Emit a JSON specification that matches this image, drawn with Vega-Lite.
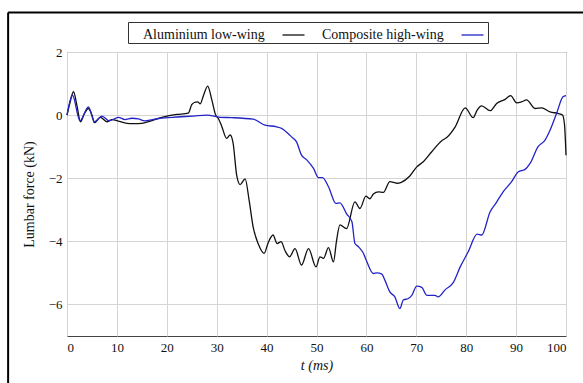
{
  "$schema": "https://vega.github.io/schema/vega-lite/v6.json",
  "width": 499,
  "height": 284,
  "autosize": {"type": "none"},
  "padding": {"left": 67, "top": 52, "right": 17, "bottom": 47},
  "background": "white",
  "config": {
    "view": {"stroke": "#444", "strokeWidth": 1},
    "font": "Liberation Serif",
    "axis": {"labelFont": "Liberation Serif", "titleFont": "Liberation Serif"},
    "legend": {"labelFont": "Liberation Serif"}
  },
  "datasets": {
    "forces": [
      {"t": 0, "force": 0, "series": "Aluminium low-wing"},
      {"t": 0.6, "force": 0.4, "series": "Aluminium low-wing"},
      {"t": 1.3, "force": 0.74, "series": "Aluminium low-wing"},
      {"t": 2.0, "force": 0.3, "series": "Aluminium low-wing"},
      {"t": 2.7, "force": -0.21, "series": "Aluminium low-wing"},
      {"t": 3.5, "force": 0.05, "series": "Aluminium low-wing"},
      {"t": 4.3, "force": 0.21, "series": "Aluminium low-wing"},
      {"t": 5.0, "force": 0.0, "series": "Aluminium low-wing"},
      {"t": 5.5, "force": -0.24, "series": "Aluminium low-wing"},
      {"t": 6.7, "force": -0.07, "series": "Aluminium low-wing"},
      {"t": 8.0, "force": -0.21, "series": "Aluminium low-wing"},
      {"t": 9.0, "force": -0.14, "series": "Aluminium low-wing"},
      {"t": 10.5, "force": -0.2, "series": "Aluminium low-wing"},
      {"t": 12, "force": -0.26, "series": "Aluminium low-wing"},
      {"t": 13.3, "force": -0.27, "series": "Aluminium low-wing"},
      {"t": 15, "force": -0.26, "series": "Aluminium low-wing"},
      {"t": 16.5, "force": -0.2, "series": "Aluminium low-wing"},
      {"t": 18, "force": -0.12, "series": "Aluminium low-wing"},
      {"t": 20, "force": -0.03, "series": "Aluminium low-wing"},
      {"t": 22, "force": 0.02, "series": "Aluminium low-wing"},
      {"t": 24.3, "force": 0.06, "series": "Aluminium low-wing"},
      {"t": 25, "force": 0.33, "series": "Aluminium low-wing"},
      {"t": 25.5, "force": 0.4, "series": "Aluminium low-wing"},
      {"t": 26.2, "force": 0.42, "series": "Aluminium low-wing"},
      {"t": 26.7, "force": 0.36, "series": "Aluminium low-wing"},
      {"t": 27.3, "force": 0.6, "series": "Aluminium low-wing"},
      {"t": 28.2, "force": 0.92, "series": "Aluminium low-wing"},
      {"t": 29, "force": 0.5, "series": "Aluminium low-wing"},
      {"t": 29.8, "force": 0.0, "series": "Aluminium low-wing"},
      {"t": 30.3, "force": -0.1, "series": "Aluminium low-wing"},
      {"t": 31, "force": -0.35, "series": "Aluminium low-wing"},
      {"t": 32, "force": -0.74, "series": "Aluminium low-wing"},
      {"t": 32.7, "force": -0.63, "series": "Aluminium low-wing"},
      {"t": 33.3, "force": -0.9, "series": "Aluminium low-wing"},
      {"t": 34, "force": -1.9, "series": "Aluminium low-wing"},
      {"t": 34.7, "force": -2.2, "series": "Aluminium low-wing"},
      {"t": 35.7, "force": -2.02, "series": "Aluminium low-wing"},
      {"t": 36.5, "force": -2.7, "series": "Aluminium low-wing"},
      {"t": 37.3, "force": -3.54, "series": "Aluminium low-wing"},
      {"t": 38.3, "force": -4.07, "series": "Aluminium low-wing"},
      {"t": 39.5, "force": -4.38, "series": "Aluminium low-wing"},
      {"t": 40.3, "force": -4.05, "series": "Aluminium low-wing"},
      {"t": 41.3, "force": -3.8, "series": "Aluminium low-wing"},
      {"t": 42.1, "force": -4.07, "series": "Aluminium low-wing"},
      {"t": 42.9, "force": -4.01, "series": "Aluminium low-wing"},
      {"t": 43.7, "force": -4.3, "series": "Aluminium low-wing"},
      {"t": 44.6, "force": -4.49, "series": "Aluminium low-wing"},
      {"t": 45.7, "force": -4.23, "series": "Aluminium low-wing"},
      {"t": 47.0, "force": -4.75, "series": "Aluminium low-wing"},
      {"t": 48.4, "force": -4.23, "series": "Aluminium low-wing"},
      {"t": 49.9, "force": -4.81, "series": "Aluminium low-wing"},
      {"t": 50.7, "force": -4.49, "series": "Aluminium low-wing"},
      {"t": 51.4, "force": -4.54, "series": "Aluminium low-wing"},
      {"t": 52.4, "force": -4.2, "series": "Aluminium low-wing"},
      {"t": 53.4, "force": -4.65, "series": "Aluminium low-wing"},
      {"t": 54.0, "force": -4.0, "series": "Aluminium low-wing"},
      {"t": 54.7, "force": -3.48, "series": "Aluminium low-wing"},
      {"t": 56.0, "force": -3.6, "series": "Aluminium low-wing"},
      {"t": 57.7, "force": -2.75, "series": "Aluminium low-wing"},
      {"t": 58.7, "force": -2.96, "series": "Aluminium low-wing"},
      {"t": 59.9, "force": -2.57, "series": "Aluminium low-wing"},
      {"t": 60.7, "force": -2.65, "series": "Aluminium low-wing"},
      {"t": 61.4, "force": -2.5, "series": "Aluminium low-wing"},
      {"t": 62.4, "force": -2.43, "series": "Aluminium low-wing"},
      {"t": 63.4, "force": -2.45, "series": "Aluminium low-wing"},
      {"t": 64.7, "force": -2.11, "series": "Aluminium low-wing"},
      {"t": 66.1, "force": -2.16, "series": "Aluminium low-wing"},
      {"t": 67.0, "force": -2.13, "series": "Aluminium low-wing"},
      {"t": 68.7, "force": -1.93, "series": "Aluminium low-wing"},
      {"t": 70.1, "force": -1.64, "series": "Aluminium low-wing"},
      {"t": 71.4, "force": -1.48, "series": "Aluminium low-wing"},
      {"t": 73.1, "force": -1.16, "series": "Aluminium low-wing"},
      {"t": 75.1, "force": -0.81, "series": "Aluminium low-wing"},
      {"t": 76.1, "force": -0.71, "series": "Aluminium low-wing"},
      {"t": 77.8, "force": -0.37, "series": "Aluminium low-wing"},
      {"t": 79.8, "force": 0.23, "series": "Aluminium low-wing"},
      {"t": 81.4, "force": -0.08, "series": "Aluminium low-wing"},
      {"t": 82.2, "force": 0.16, "series": "Aluminium low-wing"},
      {"t": 83.1, "force": 0.29, "series": "Aluminium low-wing"},
      {"t": 84.8, "force": 0.14, "series": "Aluminium low-wing"},
      {"t": 86.1, "force": 0.37, "series": "Aluminium low-wing"},
      {"t": 87.8, "force": 0.5, "series": "Aluminium low-wing"},
      {"t": 88.9, "force": 0.62, "series": "Aluminium low-wing"},
      {"t": 90.1, "force": 0.39, "series": "Aluminium low-wing"},
      {"t": 91.1, "force": 0.42, "series": "Aluminium low-wing"},
      {"t": 92.1, "force": 0.48, "series": "Aluminium low-wing"},
      {"t": 93.8, "force": 0.21, "series": "Aluminium low-wing"},
      {"t": 95.1, "force": 0.23, "series": "Aluminium low-wing"},
      {"t": 96.8, "force": 0.1, "series": "Aluminium low-wing"},
      {"t": 98.5, "force": 0.05, "series": "Aluminium low-wing"},
      {"t": 99.3, "force": 0.0, "series": "Aluminium low-wing"},
      {"t": 99.7, "force": -0.3, "series": "Aluminium low-wing"},
      {"t": 100, "force": -1.27, "series": "Aluminium low-wing"},
      {"t": 0, "force": 0, "series": "Composite high-wing"},
      {"t": 1.1, "force": 0.63, "series": "Composite high-wing"},
      {"t": 2.6, "force": -0.18, "series": "Composite high-wing"},
      {"t": 4.3, "force": 0.26, "series": "Composite high-wing"},
      {"t": 5.5, "force": -0.21, "series": "Composite high-wing"},
      {"t": 7.0, "force": -0.03, "series": "Composite high-wing"},
      {"t": 8.5, "force": -0.18, "series": "Composite high-wing"},
      {"t": 10.3, "force": -0.07, "series": "Composite high-wing"},
      {"t": 11.6, "force": -0.14, "series": "Composite high-wing"},
      {"t": 13, "force": -0.1, "series": "Composite high-wing"},
      {"t": 14.3, "force": -0.12, "series": "Composite high-wing"},
      {"t": 15.6, "force": -0.18, "series": "Composite high-wing"},
      {"t": 18.6, "force": -0.1, "series": "Composite high-wing"},
      {"t": 22, "force": -0.06, "series": "Composite high-wing"},
      {"t": 25.3, "force": -0.03, "series": "Composite high-wing"},
      {"t": 28, "force": 0.0, "series": "Composite high-wing"},
      {"t": 30.7, "force": -0.07, "series": "Composite high-wing"},
      {"t": 33, "force": -0.08, "series": "Composite high-wing"},
      {"t": 37.3, "force": -0.13, "series": "Composite high-wing"},
      {"t": 39.7, "force": -0.32, "series": "Composite high-wing"},
      {"t": 42, "force": -0.37, "series": "Composite high-wing"},
      {"t": 43, "force": -0.42, "series": "Composite high-wing"},
      {"t": 44.3, "force": -0.58, "series": "Composite high-wing"},
      {"t": 45, "force": -0.69, "series": "Composite high-wing"},
      {"t": 46, "force": -0.85, "series": "Composite high-wing"},
      {"t": 47, "force": -1.27, "series": "Composite high-wing"},
      {"t": 48, "force": -1.41, "series": "Composite high-wing"},
      {"t": 49.4, "force": -1.69, "series": "Composite high-wing"},
      {"t": 50.4, "force": -1.98, "series": "Composite high-wing"},
      {"t": 51.2, "force": -1.98, "series": "Composite high-wing"},
      {"t": 52.4, "force": -2.27, "series": "Composite high-wing"},
      {"t": 53.9, "force": -2.8, "series": "Composite high-wing"},
      {"t": 54.7, "force": -2.78, "series": "Composite high-wing"},
      {"t": 56, "force": -3.12, "series": "Composite high-wing"},
      {"t": 57.1, "force": -3.38, "series": "Composite high-wing"},
      {"t": 57.7, "force": -4.07, "series": "Composite high-wing"},
      {"t": 58.4, "force": -4.17, "series": "Composite high-wing"},
      {"t": 59.4, "force": -4.38, "series": "Composite high-wing"},
      {"t": 60.1, "force": -4.65, "series": "Composite high-wing"},
      {"t": 61.4, "force": -5.02, "series": "Composite high-wing"},
      {"t": 62.1, "force": -5.0, "series": "Composite high-wing"},
      {"t": 63.1, "force": -5.04, "series": "Composite high-wing"},
      {"t": 63.7, "force": -5.23, "series": "Composite high-wing"},
      {"t": 64.7, "force": -5.6, "series": "Composite high-wing"},
      {"t": 65.7, "force": -5.76, "series": "Composite high-wing"},
      {"t": 66.7, "force": -6.13, "series": "Composite high-wing"},
      {"t": 67.4, "force": -5.86, "series": "Composite high-wing"},
      {"t": 68.4, "force": -5.81, "series": "Composite high-wing"},
      {"t": 69.1, "force": -5.71, "series": "Composite high-wing"},
      {"t": 70.1, "force": -5.42, "series": "Composite high-wing"},
      {"t": 71.1, "force": -5.46, "series": "Composite high-wing"},
      {"t": 72.1, "force": -5.71, "series": "Composite high-wing"},
      {"t": 73.7, "force": -5.71, "series": "Composite high-wing"},
      {"t": 74.4, "force": -5.76, "series": "Composite high-wing"},
      {"t": 75.8, "force": -5.53, "series": "Composite high-wing"},
      {"t": 77.4, "force": -5.31, "series": "Composite high-wing"},
      {"t": 78.8, "force": -4.81, "series": "Composite high-wing"},
      {"t": 80.4, "force": -4.33, "series": "Composite high-wing"},
      {"t": 82.2, "force": -3.77, "series": "Composite high-wing"},
      {"t": 83.1, "force": -3.8, "series": "Composite high-wing"},
      {"t": 84.8, "force": -3.06, "series": "Composite high-wing"},
      {"t": 86, "force": -2.78, "series": "Composite high-wing"},
      {"t": 87.4, "force": -2.43, "series": "Composite high-wing"},
      {"t": 89.1, "force": -2.11, "series": "Composite high-wing"},
      {"t": 90.4, "force": -1.8, "series": "Composite high-wing"},
      {"t": 91.8, "force": -1.72, "series": "Composite high-wing"},
      {"t": 92.8, "force": -1.53, "series": "Composite high-wing"},
      {"t": 94.4, "force": -1.0, "series": "Composite high-wing"},
      {"t": 95.8, "force": -0.79, "series": "Composite high-wing"},
      {"t": 96.8, "force": -0.48, "series": "Composite high-wing"},
      {"t": 98.1, "force": 0.05, "series": "Composite high-wing"},
      {"t": 99.4, "force": 0.58, "series": "Composite high-wing"},
      {"t": 100, "force": 0.62, "series": "Composite high-wing"}
    ],
    "frame": [{"corner": "top-left"}]
  },
  "layer": [
    {
      "data": {"name": "forces"},
      "mark": {"type": "line", "strokeWidth": 1.3, "interpolate": "monotone"},
      "encoding": {
        "x": {
          "field": "t", "type": "quantitative",
          "scale": {"domain": [0, 100], "nice": false, "zero": false},
          "axis": {
            "values": [0, 10, 20, 30, 40, 50, 60, 70, 80, 90, 100],
            "title": "t (ms)", "titleFontStyle": "italic", "titleFontWeight": "normal",
            "titleFontSize": 14, "titleColor": "#111", "titlePadding": 4,
            "labelFontSize": 13, "labelColor": "#111", "labelPadding": 5,
            "ticks": false, "domain": false,
            "grid": true, "gridColor": "#d4d4d4", "gridWidth": 1
          }
        },
        "y": {
          "field": "force", "type": "quantitative",
          "scale": {"domain": [-7, 2], "nice": false, "zero": false},
          "axis": {
            "values": [-6, -4, -2, 0, 2],
            "title": "Lumbar force (kN)", "titleFontWeight": "normal",
            "titleFontSize": 14, "titleColor": "#111", "titlePadding": 12,
            "labelFontSize": 13, "labelColor": "#111", "labelPadding": 5,
            "ticks": false, "domain": false,
            "grid": true, "gridColor": "#d4d4d4", "gridWidth": 1
          }
        },
        "color": {
          "field": "series", "type": "nominal",
          "scale": {"domain": ["Aluminium low-wing", "Composite high-wing"], "range": ["#111111", "#2323c8"]},
          "legend": {
            "orient": "none", "legendX": 61, "legendY": -30,
            "direction": "horizontal", "title": null,
            "strokeColor": "#333", "fillColor": "white", "padding": 1,
            "labelFontSize": 14, "labelColor": "#111",
            "labelExpr": "datum.label + '\u00a0\u00a0\u00a0\u00a0\u00a0\u00a0\u00a0\u00a0\u00a0\u00a0\u00a0\u00a0\u00a0\u00a0\u00a0\u00a0\u00a0'",
            "symbolType": "stroke", "symbolSize": 484, "symbolStrokeWidth": 1.3,
            "labelAlign": "left", "labelOffset": -162.5, "symbolOffset": 152.5,
            "columnPadding": -4
          }
        }
      }
    },
    {
      "data": {"name": "frame"},
      "mark": {"type": "rule", "color": "black", "strokeWidth": 2},
      "encoding": {
        "x": {"datum": -11.8},
        "y": {"datum": 3.25},
        "y2": {"datum": -9}
      }
    },
    {
      "data": {"name": "frame"},
      "mark": {"type": "rule", "color": "black", "strokeWidth": 2},
      "encoding": {
        "x": {"datum": -11.8},
        "x2": {"datum": 112},
        "y": {"datum": 3.25}
      }
    }
  ]
}
